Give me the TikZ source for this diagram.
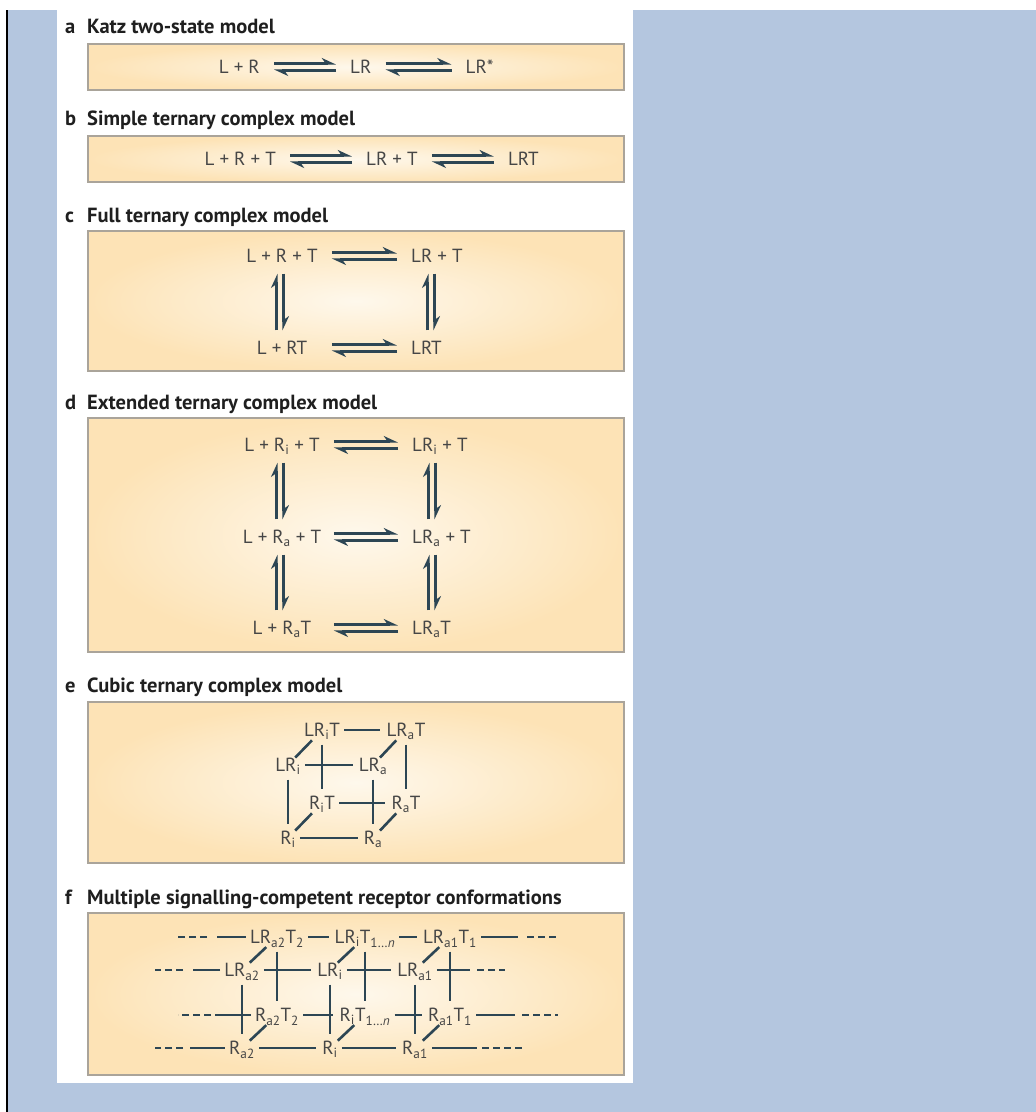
\documentclass[tikz,border=0pt]{standalone}
\usepackage{fontspec}
\setmainfont{PT Sans}
\usetikzlibrary{arrows.meta,positioning}

\definecolor{figblue}{RGB}{180,198,223}
\definecolor{boxedge}{RGB}{170,164,154}
\definecolor{boxout}{RGB}{253,227,182}
\definecolor{boxin}{RGB}{254,248,236}
\definecolor{slate}{RGB}{45,70,84}
\definecolor{labelgrey}{RGB}{70,70,70}
\newcommand{\rsub}[1]{\textsubscript{#1}}

\begin{document}
\begin{tikzpicture}[x=1pt,y=-1pt,on grid,
  model box/.style={draw=boxedge,line width=1.3pt,inner color=boxin,outer color=boxout},
  heading/.style={anchor=base west,inner sep=0pt,text=black!88,font=\fontsize{20.5pt}{23pt}\selectfont\bfseries},
  species/.style={inner sep=0pt,text height=13pt,text depth=0pt,text=labelgrey,font=\fontsize{19pt}{22pt}\selectfont},
  harp/.style={color=slate,line width=2.6pt,-{Stealth[left,length=12pt,width=11pt]}},
  hharp/.style={harp,shorten <=14pt,shorten >=14pt},
  vharp/.style={harp,shorten <=11pt,shorten >=11pt},
  bond/.style={color=slate,line width=2.6pt,shorten <=4pt,shorten >=6pt},
  vbond/.style={bond,shorten <=8pt,shorten >=7pt},
  slant/.style={bond,shorten <=5pt,shorten >=1pt},
  dots/.style={draw=slate,line width=2.6pt,dash pattern=on 7pt off 4pt}]

 \useasboundingbox (0,0) rectangle (1036,1112);
 \fill[white] (0,0) rectangle (1036,1112);
 \fill[figblue] (8,10) rectangle (1036,1112);
 \draw[line width=2pt] (7,10) -- (7,1112);
 \fill[white] (57,10) rectangle (633,1083);

 % a
 \node[heading] (la) at (65,33) {a};
 \node[heading] (ta) at (87,33) {Katz two-state model};
 \draw[model box] (88,44) rectangle (624,90);
 \node[species,anchor=east] (a1) at (260,67) {L + R};
 \node[species,right=90pt of a1.east,anchor=west] (a2) {LR};
 \node[species,right=94pt of a2.east,anchor=west] (a3) {LR*};

 \path[hharp]
    ([yshift=3.5pt]a1.east) edge ([yshift=3.5pt]a2.west)
    ([yshift=-3.5pt]a2.west) edge ([yshift=-3.5pt]a1.east)
    ([yshift=3.5pt]a2.east) edge ([yshift=3.5pt]a3.west)
    ([yshift=-3.5pt]a3.west) edge ([yshift=-3.5pt]a2.east);

 % b
 \node[heading] (lb) at (65,125) {b};
 \node[heading] (tb) at (87,125) {Simple ternary complex model};
 \draw[model box] (88,136) rectangle (624,182);
 \node[species,anchor=east] (b1) at (276,159) {L + R + T};
 \node[species,right=90pt of b1.east,anchor=west] (b2) {LR + T};
 \node[species,right=90pt of b2.east,anchor=west] (b3) {LRT};

 \path[hharp]
    ([yshift=3.5pt]b1.east) edge ([yshift=3.5pt]b2.west)
    ([yshift=-3.5pt]b2.west) edge ([yshift=-3.5pt]b1.east)
    ([yshift=3.5pt]b2.east) edge ([yshift=3.5pt]b3.west)
    ([yshift=-3.5pt]b3.west) edge ([yshift=-3.5pt]b2.east);

 % c
 \node[heading] (lc) at (65,222) {c};
 \node[heading] (tc) at (87,222) {Full ternary complex model};
 \draw[model box] (88,231) rectangle (624,371);
 \node[species] (c1L) at (282,256) {L + R + T};
 \node[species,anchor=west] (c1R) at (411,256) {LR + T};
 \node[species,below=92pt of c1L] (c2L) {L + RT};
 \node[species,below=92pt of c1R.west,anchor=west] (c2R) {LRT};

 \path[hharp]
    ([yshift=3.5pt]c1L.east) edge ([yshift=3.5pt]c1R.west)
    ([yshift=-3.5pt]c1R.west) edge ([yshift=-3.5pt]c1L.east)
    ([yshift=3.5pt]c2R.west -| c1L.east) edge ([yshift=3.5pt]c2R.west)
    ([yshift=-3.5pt]c2R.west) edge ([yshift=-3.5pt]c2R.west -| c1L.east);
 \path[vharp]
    ([xshift=1.5pt]c1L.south) edge ([xshift=1.5pt]c2L.north)
    ([xshift=-5.5pt]c2L.north) edge ([xshift=-5.5pt]c1L.south)
    ([xshift=23.5pt]c1R.south west) edge ([xshift=23.5pt]c2R.north west)
    ([xshift=16.5pt]c2R.north west) edge ([xshift=16.5pt]c1R.south west);

 % d
 \node[heading] (ld) at (65,409) {d};
 \node[heading] (td) at (87,409) {Extended ternary complex model};
 \draw[model box] (88,418) rectangle (624,652);
 \node[species] (d1L) at (282,445) {L + R\rsub{i} + T};
 \node[species,anchor=west] (d1R) at (412,445) {LR\rsub{i} + T};
 \node[species,below=92pt of d1L] (d2L) {L + R\rsub{a} + T};
 \node[species,below=92pt of d1R.west,anchor=west] (d2R) {LR\rsub{a} + T};
 \node[species,below=91pt of d2L] (d3L) {L + R\rsub{a}T};
 \node[species,below=91pt of d2R.west,anchor=west] (d3R) {LR\rsub{a}T};

 \path[hharp]
    ([yshift=3.5pt]d1L.east) edge ([yshift=3.5pt]d1R.west)
    ([yshift=-3.5pt]d1R.west) edge ([yshift=-3.5pt]d1L.east)
    ([yshift=3.5pt]d2R.west -| d1L.east) edge ([yshift=3.5pt]d2R.west)
    ([yshift=-3.5pt]d2R.west) edge ([yshift=-3.5pt]d2R.west -| d1L.east)
    ([yshift=3.5pt]d3R.west -| d1L.east) edge ([yshift=3.5pt]d3R.west)
    ([yshift=-3.5pt]d3R.west) edge ([yshift=-3.5pt]d3R.west -| d1L.east);
 \path[vharp]
    ([xshift=1.5pt]d1L.south) edge ([xshift=1.5pt]d2L.north)
    ([xshift=-5.5pt]d2L.north) edge ([xshift=-5.5pt]d1L.south)
    ([xshift=1.5pt]d2L.south) edge ([xshift=1.5pt]d3L.north)
    ([xshift=-5.5pt]d3L.north) edge ([xshift=-5.5pt]d2L.south)
    ([xshift=23.5pt]d1R.south west) edge ([xshift=23.5pt]d2R.north west)
    ([xshift=16.5pt]d2R.north west) edge ([xshift=16.5pt]d1R.south west)
    ([xshift=23.5pt]d2R.south west) edge ([xshift=23.5pt]d3R.north west)
    ([xshift=16.5pt]d3R.north west) edge ([xshift=16.5pt]d2R.south west);

 % e
 \node[heading] (le) at (65,692) {e};
 \node[heading] (te) at (87,692) {Cubic ternary complex model};
 \draw[model box] (88,702) rectangle (624,863);
 \node[species] (eLRi) at (288,765) {LR\rsub{i}};
 \node[species,right=85pt of eLRi] (eLRa) {LR\rsub{a}};
 \node[species,below=73pt of eLRi] (eRi) {R\rsub{i}};
 \node[species,right=85pt of eRi] (eRa) {R\rsub{a}};
 \node[species,above right=35pt and 34pt of eLRi] (eLRiT) {LR\rsub{i}T};
 \node[species,right=84pt of eLRiT] (eLRaT) {LR\rsub{a}T};
 \node[species,below=73pt of eLRiT] (eRiT) {R\rsub{i}T};
 \node[species,right=84pt of eRiT] (eRaT) {R\rsub{a}T};

 \path[bond]
    (eLRiT) edge (eLRaT)
    (eLRi) edge (eLRa)
    (eRiT) edge (eRaT)
    (eRi) edge (eRa);
 \path[vbond]
    (eLRiT) edge (eRiT)
    (eLRaT) edge (eRaT)
    (eLRi) edge (eRi)
    (eLRa) edge (eRa);
 \path[slant]
    (eLRiT) edge (eLRi)
    (eLRaT) edge (eLRa)
    (eRiT) edge (eRi)
    (eRaT) edge (eRa);

 % f
 \node[heading] (lf) at (65,904) {f};
 \node[heading] (tf) at (87,904) {Multiple signalling-competent receptor conformations};
 \draw[model box] (88,913) rectangle (624,1075);
 \node[species] (fLRa2) at (242,970) {LR\rsub{a2}};
 \node[species,right=88pt of fLRa2] (fLRi) {LR\rsub{i}};
 \node[species,right=85pt of fLRi] (fLRa1) {LR\rsub{a1}};
 \node[species,below=78pt of fLRa2] (fRa2) {R\rsub{a2}};
 \node[species,right=88pt of fRa2] (fRi) {R\rsub{i}};
 \node[species,right=85pt of fRi] (fRa1) {R\rsub{a1}};
 \node[species,above right=33pt and 35pt of fLRa2] (fLRa2T) {LR\rsub{a2}T\rsub{2}};
 \node[species,right=88pt of fLRa2T] (fLRiT) {LR\rsub{i}T\rsub{1\ldots\textit{n}}};
 \node[species,right=85pt of fLRiT] (fLRa1T) {LR\rsub{a1}T\rsub{1}};
 \node[species,below=78pt of fLRa2T] (fRa2T) {R\rsub{a2}T\rsub{2}};
 \node[species,right=88pt of fRa2T] (fRiT) {R\rsub{i}T\rsub{1\ldots\textit{n}}};
 \node[species,right=85pt of fRiT] (fRa1T) {R\rsub{a1}T\rsub{1}};

 \coordinate (fl1) at (217,937);
 \coordinate (fl2) at (193,970);
 \coordinate (fl3) at (215,1015);
 \coordinate (fl4) at (190,1048);
 \coordinate (fr1) at (518,937);
 \coordinate (fr2) at (470,970);
 \coordinate (fr3) at (515,1015);
 \coordinate (fr4) at (477,1048);

 \path[bond]
    (fLRa2T) edge (fLRiT)
    (fLRiT) edge (fLRa1T)
    (fLRa2) edge (fLRi)
    (fLRi) edge (fLRa1)
    (fRa2T) edge (fRiT)
    (fRiT) edge (fRa1T)
    (fRa2) edge (fRi)
    (fRi) edge (fRa1);
 \path[bond,shorten >=0pt]
    (fLRa2T) edge (fl1)
    (fLRa2) edge (fl2)
    (fRa2T) edge (fl3)
    (fRa2) edge (fl4)
    (fLRa1T) edge (fr1)
    (fLRa1) edge (fr2)
    (fRa1T) edge (fr3)
    (fRa1) edge (fr4);
 \path[vbond]
    (fLRa2T) edge (fRa2T)
    (fLRiT) edge (fLRiT |- fRiT.north)
    (fLRa1T) edge (fLRa1T |- fRa1T.north)
    (fLRa2) edge (fRa2)
    (fLRi) edge (fRi)
    (fLRa1) edge (fRa1);
 \path[slant]
    (fLRa2T) edge (fLRa2)
    (fLRiT) edge (fLRi)
    (fLRa1T) edge (fLRa1)
    (fRa2T) edge (fRa2)
    (fRiT) edge (fRi)
    (fRa1T) edge (fRa1);

 \draw[dots] ([xshift=-10pt]fl1) -- ++(-29pt,0);
 \draw[dots] ([xshift=-10pt]fl2) -- ++(-28pt,0);
 \draw[dots] ([xshift=-4pt]fl3) -- ++(-33pt,0);
 \draw[dots] ([xshift=-7pt]fl4) -- ++(-28pt,0);
 \draw[dots] ([xshift=9pt]fr1) -- ++(30pt,0);
 \draw[dots] ([xshift=7pt]fr2) -- ++(28pt,0);
 \draw[dots] ([xshift=7pt]fr3) -- ++(36pt,0);
 \draw[dots] ([xshift=5pt]fr4) -- ++(40pt,0);

\end{tikzpicture}
\end{document}
